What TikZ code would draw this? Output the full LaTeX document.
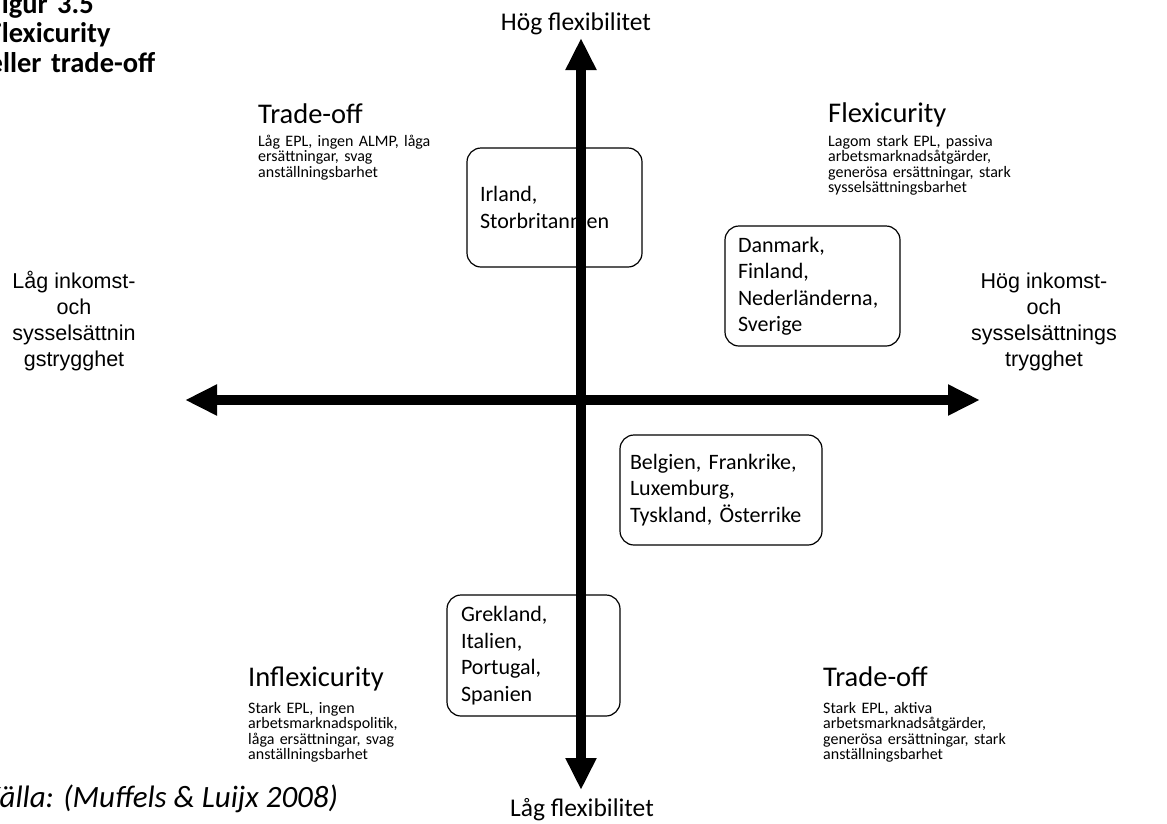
\documentclass[tikz,border=0pt]{standalone}
\usepackage{fontspec}
\setmainfont{Carlito}
\newfontfamily\arialf{Liberation Sans}
\usetikzlibrary{arrows.meta}
\tikzset{
  axisline/.style={line width=10pt, -{Triangle[length=32pt,width=29pt]}},
  qtitle/.style={anchor=base west, inner sep=0pt, font=\fontsize{28.5}{34}\selectfont},
  qdesc/.style={anchor=base west, inner sep=0pt, align=left, text width=240pt, font=\fontsize{16}{15.6}\selectfont},
  cbox/.style={draw=black, line width=1.2pt, rounded corners=14pt, fill=white, align=left,
    font=\fontsize{22}{26.5}\selectfont, inner ysep=0pt},
  axlabel/.style={inner sep=0pt, align=center, font=\arialf\fontsize{21.5}{26}\selectfont},
  flexlabel/.style={anchor=base, inner sep=0pt, font=\fontsize{25.5}{30}\selectfont},
}
\begin{document}
\begin{tikzpicture}[x=1pt,y=-1pt]
\useasboundingbox (0,0) rectangle (1167,823);
\clip (0,0) rectangle (1167,823);
\fill[white] (0,0) rectangle (1167,823);

% title
\node[anchor=base west, inner sep=0pt, align=left, text width=300pt,
  font=\bfseries\fontsize{28.5}{29.5}\selectfont] (title) at (-11.5,13)
  {Figur 3.5\\Flexicurity\\eller trade-off};

% quadrant texts
\node[qtitle] (tlt) at (258,123) {Trade-off};
\node[qdesc] (tld) at (258,146) {Låg EPL, ingen ALMP, låga\\ersättningar, svag\\anställningsbarhet};

\node[qtitle] (trt) at (828,122) {Flexicurity};
\node[qdesc] (trd) at (828,146) {Lagom stark EPL, passiva\\arbetsmarknadsåtgärder,\\generösa ersättningar, stark\\sysselsättningsbarhet};

\node[qtitle] (blt) at (248,686) {Inflexicurity};
\node[qdesc] (bld) at (248,713) {Stark EPL, ingen\\arbetsmarknadspolitik,\\låga ersättningar, svag\\anställningsbarhet};

\node[qtitle] (brt) at (823,686) {Trade-off};
\node[qdesc] (brd) at (823,713) {Stark EPL, aktiva\\arbetsmarknadsåtgärder,\\generösa ersättningar, stark\\anställningsbarhet};

% country boxes
\node[cbox, minimum width=175pt, minimum height=119pt, text width=149pt, inner xsep=13pt] (irl) at (554.5,207.5) {Irland,\\Storbritannien};
\node[cbox, minimum width=175pt, minimum height=120pt, text width=149pt, inner xsep=13pt] (dk) at (812.5,286) {Danmark,\\Finland,\\Nederländerna,\\Sverige};
\node[cbox, minimum width=202pt, minimum height=110pt, text width=182pt, inner xsep=10pt] (be) at (721,490) {Belgien, Frankrike,\\Luxemburg,\\Tyskland, Österrike};
\node[cbox, minimum width=173pt, minimum height=121pt, text width=145pt, inner xsep=14pt] (gr) at (533.5,655.5) {Grekland,\\Italien,\\Portugal,\\Spanien};

% axes
\coordinate (c) at (581,400);
\coordinate (top) at (581,38);
\coordinate (bot) at (581,790);
\coordinate (lft) at (185,400);
\coordinate (rgt) at (980,400);
\draw[axisline] (c) -- (top);
\draw[axisline] (c) -- (bot);
\draw[axisline] (c) -- (lft);
\draw[axisline] (c) -- (rgt);

% axis labels
\node[flexlabel] (hog) at (576,30) {Hög flexibilitet};
\node[flexlabel] (lag) at (582,816) {Låg flexibilitet};
\node[axlabel, anchor=base] (left) at (74,366) {Låg inkomst-\\och\\sysselsättnin\\gstrygghet};
\node[axlabel, anchor=base] (right) at (1044,366) {Hög inkomst-\\och\\sysselsättnings\\trygghet};

% source
\node[anchor=base west, inner sep=0pt, font=\itshape\fontsize{31}{34}\selectfont] (src) at (-16,807) {Källa: (Muffels \& Luijx 2008)};
\end{tikzpicture}
\end{document}
